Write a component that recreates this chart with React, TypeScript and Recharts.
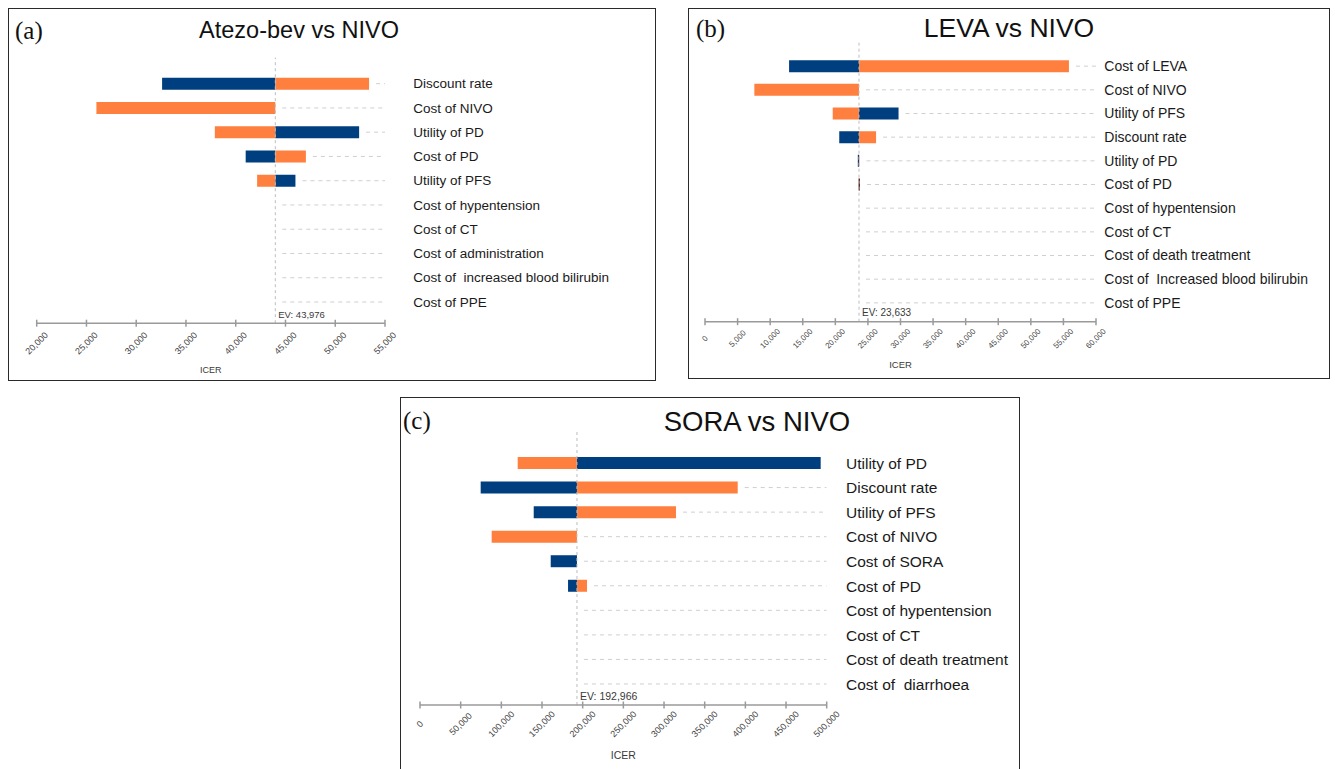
import React from 'react';
import { BarChart, Bar, XAxis, YAxis, ReferenceLine } from 'recharts';

const BLUE = '#003f7f';
const ORANGE = '#ff7f3f';

// ---------- Panel (a) Atezo-bev vs NIVO ----------
const aParams = [
  'Discount rate',
  'Cost of NIVO',
  'Utility of PD',
  'Cost of PD',
  'Utility of PFS',
  'Cost of hypentension',
  'Cost of CT',
  'Cost of administration',
  'Cost of  increased blood bilirubin',
  'Cost of PPE',
];
const aBlue = [32600, null, 52400, 41000, 46000, null, null, null, null, null];
const aOrange = [53400, 26000, 37900, 47050, 42150, null, null, null, null, null];
const aEV = 43976;
const aTicks = [20000, 25000, 30000, 35000, 40000, 45000, 50000, 55000];

// ---------- Panel (b) LEVA vs NIVO ----------
const bParams = [
  'Cost of LEVA',
  'Cost of NIVO',
  'Utility of PFS',
  'Discount rate',
  'Utility of PD',
  'Cost of PD',
  'Cost of hypentension',
  'Cost of CT',
  'Cost of death treatment',
  'Cost of  Increased blood bilirubin',
  'Cost of PPE',
];
const bBlue = [12900, null, 29700, 20600, 23450, 23780, null, null, null, null, null];
const bOrange = [55850, 7570, 19600, 26250, 23700, 23480, null, null, null, null, null];
const bEV = 23633;
const bTicks = [0, 5000, 10000, 15000, 20000, 25000, 30000, 35000, 40000, 45000, 50000, 55000, 60000];

// ---------- Panel (c) SORA vs NIVO ----------
const cParams = [
  'Utility of PD',
  'Discount rate',
  'Utility of PFS',
  'Cost of NIVO',
  'Cost of SORA',
  'Cost of PD',
  'Cost of hypentension',
  'Cost of CT',
  'Cost of death treatment',
  'Cost of  diarrhoea',
];
const cBlue = [492600, 74600, 139800, null, 160700, 182000, null, null, null, null];
const cOrange = [120100, 390600, 314700, 88100, null, 205300, null, null, null, null];
const cEV = 192966;
const cTicks = [0, 50000, 100000, 150000, 200000, 250000, 300000, 350000, 400000, 450000, 500000];

const fmt = (v: number) => v.toLocaleString('en-US');
const SANS = '"Liberation Sans", Arial, sans-serif';
const SERIF = '"Liberation Serif", "Times New Roman", serif';

type Geo = {
  box: { left: number; top: number; right: number; bottom: number };
  plotLeft: number;
  plotRight: number;
  axisY: number;
  firstRow: number;
  step: number;
  padTop: number;
  labelX: number;
  labelFont: number;
  tickFont: number;
  tickDy: number;
  evFont: number;
  icerFont: number;
  icerDy: number;
  title: string;
  titleX: number;
  titleY: number;
  titleFont: number;
  tag: string;
  tagX: number;
  tagY: number;
  tagFont: number;
};

const RestLine = (props: any) => {
  const { x, y, width, height } = props;
  if (!(width > 9)) return null;
  const cy = y + height / 2;
  return (
    <line x1={x + 7} x2={x + width} y1={cy} y2={cy} stroke="#cfcfcf" strokeWidth={1} strokeDasharray="4 4" />
  );
};

function Panel({
  params,
  blue,
  orange,
  ev,
  ticks,
  geo,
}: {
  params: string[];
  blue: (number | null)[];
  orange: (number | null)[];
  ev: number;
  ticks: number[];
  geo: Geo;
}) {
  const n = params.length;
  const data = params.map((p, i) => ({ name: p, blue: blue[i], orange: orange[i] }));
  const domain: [number, number] = [ticks[0], ticks[ticks.length - 1]];
  const { box } = geo;
  const bandStart = geo.firstRow - geo.step / 2;
  const bandEnd = bandStart + geo.step * n;
  const padBottom = geo.axisY - bandEnd;
  const plotTop = bandStart - geo.padTop;
  const yAxisWidth = box.right - geo.plotRight;
  const xAxisHeight = geo.icerDy + 12;
  const width = geo.plotRight - box.left + yAxisWidth;
  const height = geo.axisY - box.top + xAxisHeight;

  const seg = (key: 'blue' | 'orange') => (d: any) => {
    const v = d[key];
    if (v == null) return [ev, ev];
    return [Math.min(v, ev), Math.max(v, ev)];
  };
  const rest = (d: any) => [Math.max(ev, d.blue ?? ev, d.orange ?? ev), domain[1]];

  const XTick = (p: any) => {
    const { x, y, payload } = p;
    const ty = y + geo.tickDy;
    return (
      <g>
        <line x1={x} x2={x} y1={y - 3.5} y2={y + 3.5} stroke="#9a9a9a" strokeWidth={1.5} />
        <text
          x={x}
          y={ty}
          transform={`rotate(-45 ${x} ${ty})`}
          textAnchor="middle"
          dominantBaseline="central"
          fontSize={geo.tickFont}
          fontFamily={SANS}
          fill="#444"
        >
          {fmt(payload.value)}
        </text>
      </g>
    );
  };

  const YTick = (p: any) => {
    const { x, y, payload } = p;
    return (
      <text
        x={x}
        y={y}
        textAnchor="start"
        dominantBaseline="central"
        fontSize={geo.labelFont}
        fontFamily={SANS}
        fill="#1a1a1a"
        style={{ whiteSpace: 'pre' }}
      >
        {payload.value}
      </text>
    );
  };

  const IcerLabel = (p: any) => {
    const vb = p.viewBox;
    return (
      <text
        x={vb.x + vb.width / 2}
        y={vb.y + geo.icerDy}
        textAnchor="middle"
        dominantBaseline="central"
        fontSize={geo.icerFont}
        fontFamily={SANS}
        fill="#3a3a3a"
      >
        ICER
      </text>
    );
  };

  const EvLabel = (p: any) => {
    const vb = p.viewBox;
    return (
      <text
        x={vb.x + 3}
        y={vb.y + vb.height - 9}
        textAnchor="start"
        dominantBaseline="central"
        fontSize={geo.evFont}
        fontFamily={SANS}
        fill="#3a3a3a"
      >
        {`EV: ${fmt(ev)}`}
      </text>
    );
  };

  return (
    <>
      <div
        style={{
          position: 'absolute',
          left: box.left,
          top: box.top,
          width: box.right - box.left,
          height: box.bottom - box.top,
          border: '1.5px solid #2a2a2a',
          boxSizing: 'border-box',
        }}
      />
      <div
        style={{
          position: 'absolute',
          left: geo.tagX,
          top: geo.tagY,
          transform: 'translateY(-50%)',
          fontFamily: SERIF,
          fontSize: geo.tagFont,
          lineHeight: 1,
          color: '#111',
        }}
      >
        {geo.tag}
      </div>
      <div
        style={{
          position: 'absolute',
          left: geo.titleX,
          top: geo.titleY,
          transform: 'translate(-50%, -50%)',
          fontFamily: SANS,
          fontSize: geo.titleFont,
          lineHeight: 1,
          whiteSpace: 'nowrap',
          color: '#111',
        }}
      >
        {geo.title}
      </div>
      <div style={{ position: 'absolute', left: box.left, top: box.top }}>
        <BarChart
          width={width}
          height={height}
          data={data}
          layout="vertical"
          barGap={-12}
          margin={{ top: plotTop - box.top, left: geo.plotLeft - box.left, right: 0, bottom: 0 }}
          style={{ overflow: 'visible' }}
        >
          <XAxis
            type="number"
            domain={domain}
            ticks={ticks}
            interval={0}
            allowDataOverflow
            height={xAxisHeight}
            tickSize={0}
            tickMargin={0}
            tickLine={false}
            axisLine={{ stroke: '#9a9a9a', strokeWidth: 1.5 }}
            tick={XTick}
            label={IcerLabel}
          />
          <YAxis
            type="category"
            dataKey="name"
            orientation="right"
            width={yAxisWidth}
            padding={{ top: geo.padTop, bottom: padBottom }}
            tickSize={0}
            tickMargin={geo.labelX - geo.plotRight}
            axisLine={false}
            tickLine={false}
            interval={0}
            tick={YTick}
          />
          <ReferenceLine
            x={ev}
            stroke="#bdbdbd"
            strokeWidth={1}
            strokeDasharray="3 3"
            label={EvLabel}
          />
          <Bar dataKey={rest} barSize={12} shape={RestLine} isAnimationActive={false} />
          <Bar dataKey={seg('blue')} barSize={12} fill={BLUE} isAnimationActive={false} />
          <Bar dataKey={seg('orange')} barSize={12} fill={ORANGE} isAnimationActive={false} />
        </BarChart>
      </div>
    </>
  );
}

const geoA: Geo = {
  box: { left: 8, top: 7.5, right: 656, bottom: 380.5 },
  plotLeft: 36.7,
  plotRight: 385,
  axisY: 322.7,
  firstRow: 83.3,
  step: 24.26,
  padTop: 14,
  labelX: 413.3,
  labelFont: 13.5,
  tickFont: 9,
  tickDy: 20,
  evFont: 9.5,
  icerFont: 9,
  icerDy: 47,
  title: 'Atezo-bev vs NIVO',
  titleX: 299,
  titleY: 31,
  titleFont: 23.5,
  tag: '(a)',
  tagX: 15,
  tagY: 30,
  tagFont: 25,
};

const geoB: Geo = {
  box: { left: 688, top: 8, right: 1330, bottom: 378.5 },
  plotLeft: 705,
  plotRight: 1096,
  axisY: 321.7,
  firstRow: 66,
  step: 23.67,
  padTop: 12,
  labelX: 1104.3,
  labelFont: 14,
  tickFont: 8,
  tickDy: 17,
  evFont: 10,
  icerFont: 9.5,
  icerDy: 43,
  title: 'LEVA vs NIVO',
  titleX: 1009,
  titleY: 28,
  titleFont: 26.5,
  tag: '(b)',
  tagX: 696,
  tagY: 28,
  tagFont: 25,
};

const geoC: Geo = {
  box: { left: 400, top: 397, right: 1020, bottom: 790 },
  plotLeft: 420,
  plotRight: 826.7,
  axisY: 705,
  firstRow: 463.3,
  step: 24.55,
  padTop: 22,
  labelX: 846,
  labelFont: 15.5,
  tickFont: 9,
  tickDy: 19,
  evFont: 10.5,
  icerFont: 10.5,
  icerDy: 50,
  title: 'SORA vs NIVO',
  titleX: 757,
  titleY: 422,
  titleFont: 27.5,
  tag: '(c)',
  tagX: 403,
  tagY: 420,
  tagFont: 25,
};

export default function App() {
  return (
    <div
      style={{
        position: 'relative',
        width: 1335,
        height: 769,
        overflow: 'hidden',
        background: '#fff',
        fontFamily: SANS,
      }}
    >
      <style>{'body{margin:0;background:#fff;}'}</style>
      <Panel params={aParams} blue={aBlue} orange={aOrange} ev={aEV} ticks={aTicks} geo={geoA} />
      <Panel params={bParams} blue={bBlue} orange={bOrange} ev={bEV} ticks={bTicks} geo={geoB} />
      <Panel params={cParams} blue={cBlue} orange={cOrange} ev={cEV} ticks={cTicks} geo={geoC} />
    </div>
  );
}
